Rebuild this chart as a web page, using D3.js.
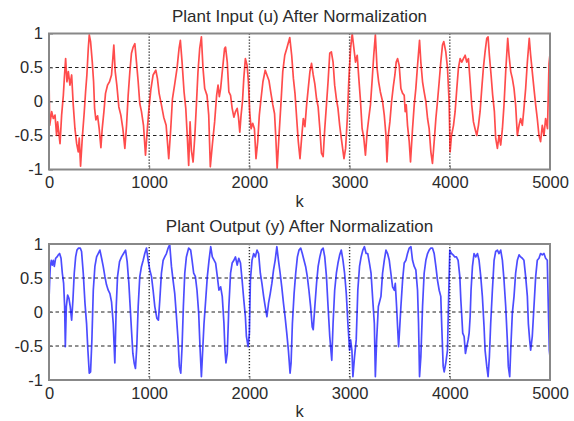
<!DOCTYPE html>
<html>
<head>
<meta charset="utf-8">
<script src="https://cdn.jsdelivr.net/npm/d3@7"></script>
<style>
    body { margin: 0; background: #fff; }
    svg text { font-family: Arial, "Liberation Sans", sans-serif; fill: #2b2b2b; }
</style>
</head>
<body>
<div id="chart"></div>
<script>
// ticks shared by both plots
const kTicks = [0, 1000, 2000, 3000, 4000, 5000];
const valueTicks = [-1, -0.5, 0, 0.5, 1];
const gridK = [1000, 2000, 3000, 4000];
const gridValues = [-0.5, 0, 0.5];

// plant input u(k)
const inputK = [0, 7, 27, 43, 60, 76, 86, 110, 126, 143, 153, 166, 179, 193, 209, 226, 242, 259, 276, 292,
    302, 315, 332, 352, 365, 378, 392, 402, 415, 432, 445, 455, 468, 485, 501, 518, 531, 548, 564, 584,
    604, 624, 637, 647, 661, 677, 697, 717, 737, 757, 774, 790, 807, 823, 840, 857, 873, 890, 906, 923,
    943, 963, 979, 996, 1016, 1039, 1066, 1082, 1099, 1122, 1145, 1169, 1195, 1215, 1232, 1255, 1278, 1298, 1311, 1328,
    1348, 1365, 1381, 1394, 1408, 1421, 1438, 1454, 1471, 1487, 1504, 1521, 1537, 1554, 1577, 1594, 1610, 1630, 1653, 1673,
    1687, 1700, 1713, 1726, 1739, 1752, 1762, 1779, 1795, 1812, 1828, 1845, 1861, 1878, 1891, 1904, 1917, 1931, 1944, 1960,
    1977, 1990, 2003, 2017, 2033, 2050, 2066, 2083, 2099, 2116, 2135, 2158, 2175, 2195, 2215, 2234, 2251, 2264, 2277, 2294,
    2314, 2333, 2353, 2373, 2403, 2422, 2439, 2455, 2472, 2488, 2505, 2521, 2538, 2554, 2571, 2587, 2604, 2620, 2637, 2653,
    2670, 2686, 2703, 2719, 2736, 2752, 2769, 2785, 2802, 2818, 2835, 2851, 2868, 2884, 2901, 2917, 2944, 2960, 2977, 2993,
    3010, 3026, 3043, 3059, 3076, 3092, 3109, 3125, 3142, 3158, 3175, 3191, 3208, 3224, 3241, 3257, 3274, 3290, 3307, 3329,
    3346, 3363, 3373, 3386, 3402, 3419, 3436, 3452, 3465, 3479, 3495, 3512, 3529, 3545, 3555, 3565, 3578, 3595, 3608, 3628,
    3645, 3661, 3678, 3698, 3711, 3728, 3744, 3761, 3778, 3794, 3811, 3827, 3844, 3861, 3877, 3894, 3910, 3927, 3940, 3960,
    3977, 3993, 4003, 4017, 4037, 4053, 4070, 4086, 4103, 4120, 4136, 4153, 4169, 4186, 4203, 4219, 4236, 4252, 4269, 4286,
    4302, 4319, 4335, 4352, 4369, 4382, 4395, 4412, 4428, 4445, 4458, 4475, 4491, 4508, 4525, 4541, 4558, 4578, 4591, 4608,
    4624, 4641, 4657, 4674, 4691, 4707, 4724, 4740, 4757, 4774, 4793, 4807, 4823, 4840, 4857, 4873, 4890, 4906, 4923, 4940,
    4956, 4975, 4990, 5000];
const inputU = [0.34, -0.35, -0.15, -0.25, -0.2, -0.5, -0.3, -0.62, -0.2, 0.09, 0.34, 0.63, 0.29, 0.44, 0.24, 0.39, -0.05, -0.4, -0.62, -0.74,
    -0.54, -0.95, -0.54, -0.15, 0.14, 0.39, 0.78, 0.98, 0.88, 0.58, 0.29, -0.1, -0.27, -0.21, -0.4, -0.68, -0.4, -0.15, 0.12, 0.24,
    0.29, 0.39, 0.63, 0.83, 0.44, 0.24, -0.08, -0.2, -0.4, -0.69, -0.35, 0.09, 0.44, 0.71, 0.8, 0.85, 0.58, 0.29, -0.03, -0.15,
    -0.35, -0.79, -0.45, -0.13, 0.17, 0.39, 0.46, 0.34, 0.12, -0.05, -0.23, -0.35, -0.84, -0.4, 0.04, 0.26, 0.49, 0.78, 0.9, 0.58,
    0.14, -0.1, -0.54, -0.94, -0.3, -0.72, -0.89, -0.54, -0.05, 0.44, 0.78, 0.95, 0.49, 0.19, 0.09, -0.2, -0.96, -0.64, -0.3, 0.09,
    0.24, 0.07, 0.19, 0.39, 0.58, 0.78, 0.8, 0.58, 0.14, 0.09, -0.1, -0.23, -0.15, -0.1, -0.23, -0.45, -0.2, 0, 0.34, 0.63,
    0.53, 0.29, -0.15, -0.4, -0.32, -0.4, -0.84, -0.59, -0.2, 0.04, 0.29, 0.46, 0.39, 0.31, 0.12, -0.05, -0.18, -0.54, -0.99, -0.54,
    -0.05, 0.44, 0.68, 0.78, 0.94, 0.68, 0.34, 0.12, -0.25, -0.59, -0.84, -0.54, -0.25, -0.37, -0.05, 0.19, 0.44, 0.56, 0.39, 0.26,
    0.04, -0.08, -0.4, -0.76, -0.81, -0.4, -0.05, 0.29, 0.71, 0.73, 0.58, 0.24, 0.04, -0.1, -0.35, -0.54, -0.84, -0.69, -0.25, 0.34,
    0.78, 1.0, 0.78, 0.58, 0.68, 0.34, 0, -0.4, -0.54, -0.79, -0.45, -0.25, -0.05, 0.29, 0.68, 0.98, 0.49, 0.29, 0.14, 0,
    -0.2, -0.5, -0.89, -0.5, -0.3, 0, 0.22, 0.39, 0.58, 0.63, 0.53, 0.19, 0.12, 0.09, -0.15, -0.05, -0.35, -0.59, -0.89, -0.4,
    -0.05, 0.19, 0.53, 0.9, 0.58, 0.29, 0.14, 0, -0.25, -0.4, -0.74, -0.91, -0.59, -0.25, 0, 0.29, 0.58, 0.83, 0.88, 0.73,
    0.49, 0, -0.74, -0.5, -0.35, -0.15, 0.19, 0.49, 0.63, 0.58, 0.63, 0.68, 0.58, 0.63, 0.29, -0.05, -0.3, -0.4, -0.5, -0.35,
    -0.15, 0.19, 0.49, 0.73, 0.93, 0.95, 0.68, 0.39, 0.09, -0.15, -0.54, -0.69, -0.5, -0.64, -0.4, -0.05, 0.44, 0.93, 0.68, 0.44,
    0.34, 0.19, -0.05, -0.5, -0.35, -0.25, -0.35, -0.1, 0.19, 0.58, 0.93, 0.68, 0.44, 0.19, -0.05, -0.25, -0.5, -0.59, -0.35, -0.5,
    -0.25, -0.4, 0.55, 0.7];

// plant output y(k)
const outputK = [0, 7, 13, 23, 33, 43, 53, 66, 80, 93, 106, 120, 133, 146, 156, 163, 173, 186, 199, 212,
    226, 239, 252, 266, 279, 295, 312, 325, 342, 359, 375, 388, 402, 415, 428, 442, 458, 475, 491, 508,
    525, 541, 558, 574, 591, 608, 624, 641, 657, 671, 684, 704, 724, 744, 764, 780, 797, 810, 823, 837,
    850, 863, 876, 890, 906, 923, 940, 956, 973, 989, 1006, 1023, 1039, 1056, 1076, 1092, 1106, 1122, 1139, 1155,
    1172, 1189, 1205, 1222, 1238, 1255, 1272, 1288, 1301, 1315, 1328, 1341, 1355, 1371, 1394, 1414, 1428, 1444, 1461, 1477,
    1494, 1507, 1521, 1534, 1547, 1564, 1580, 1597, 1614, 1630, 1663, 1680, 1696, 1713, 1729, 1746, 1756, 1766, 1779, 1795,
    1812, 1828, 1845, 1861, 1878, 1894, 1911, 1927, 1944, 1960, 1970, 1987, 2000, 2010, 2026, 2043, 2059, 2076, 2092, 2109,
    2125, 2142, 2158, 2175, 2191, 2208, 2224, 2241, 2257, 2274, 2290, 2307, 2323, 2340, 2356, 2373, 2389, 2406, 2416, 2429,
    2446, 2462, 2479, 2495, 2512, 2528, 2545, 2561, 2578, 2594, 2611, 2627, 2637, 2653, 2670, 2686, 2703, 2719, 2736, 2752,
    2769, 2785, 2802, 2822, 2835, 2851, 2868, 2884, 2901, 2917, 2934, 2950, 2967, 2983, 3000, 3010, 3023, 3033, 3049, 3066,
    3082, 3099, 3115, 3132, 3148, 3165, 3181, 3198, 3214, 3231, 3247, 3257, 3270, 3287, 3313, 3329, 3346, 3363, 3379, 3396,
    3412, 3429, 3446, 3456, 3469, 3479, 3489, 3499, 3512, 3529, 3545, 3562, 3578, 3595, 3612, 3628, 3645, 3661, 3678, 3688,
    3698, 3711, 3728, 3744, 3761, 3778, 3794, 3811, 3827, 3844, 3861, 3877, 3894, 3910, 3920, 3934, 3944, 3960, 3977, 3990,
    4000, 4017, 4033, 4050, 4066, 4083, 4100, 4110, 4120, 4129, 4143, 4156, 4169, 4183, 4193, 4203, 4212, 4226, 4242, 4259,
    4276, 4292, 4309, 4325, 4342, 4352, 4369, 4382, 4395, 4408, 4425, 4442, 4458, 4475, 4491, 4508, 4525, 4541, 4558, 4574,
    4584, 4598, 4608, 4624, 4641, 4657, 4674, 4691, 4707, 4724, 4740, 4757, 4774, 4784, 4797, 4807, 4823, 4840, 4857, 4873,
    4890, 4906, 4923, 4940, 4956, 4973, 4983, 4993, 5000];
const outputY = [0.18, 0.47, 0.67, 0.76, 0.69, 0.76, 0.67, 0.79, 0.81, 0.84, 0.86, 0.79, 0.57, 0.42, 0.08, -0.51, 0.08, 0.25, 0.2, 0.08,
    -0.12, 0.18, 0.57, 0.81, 0.91, 0.94, 0.94, 0.89, 0.57, 0.13, -0.17, -0.56, -0.9, -0.88, -0.41, 0.32, 0.67, 0.81, 0.86, 0.91,
    0.79, 0.67, 0.52, 0.4, 0.32, 0.27, 0.15, -0.17, -0.75, 0.08, 0.52, 0.74, 0.81, 0.86, 0.91, 0.74, 0.42, 0.08, -0.26, -0.61,
    -0.75, -0.83, -0.51, 0.08, 0.52, 0.67, 0.76, 0.86, 0.94, 0.76, 0.62, 0.52, 0.32, 0.08, -0.09, -0.12, 0.18, 0.57, 0.76, 0.81,
    0.86, 0.94, 0.99, 0.67, 0.47, 0.27, -0.07, -0.41, -0.8, -0.9, -0.51, 0.08, 0.57, 0.81, 0.94, 0.91, 0.76, 0.57, 0.52, 0.32,
    -0.02, -0.51, -0.95, -0.56, -0.17, 0.18, 0.52, 0.76, 0.96, 0.81, 0.72, 0.52, 0.32, 0.37, 0.23, -0.17, -0.56, -0.75, -0.61, 0.08,
    0.57, 0.72, 0.76, 0.81, 0.69, 0.79, 0.72, 0.47, 0.18, -0.07, -0.36, -0.51, -0.31, 0.47, 0.76, 0.86, 0.81, 0.91, 0.86, 0.57,
    0.42, 0.23, 0.08, -0.07, 0.13, 0.27, 0.42, 0.62, 0.76, 0.96, 0.76, 0.57, 0.37, 0.13, -0.07, -0.31, -0.56, -0.9, -0.75, -0.17,
    0.27, 0.57, 0.81, 0.91, 0.94, 0.86, 0.76, 0.67, 0.52, 0.32, 0.08, -0.22, -0.26, 0.08, 0.42, 0.67, 0.81, 0.91, 0.94, 0.81,
    0.52, 0.08, -0.36, -0.71, -0.17, 0.32, 0.57, 0.72, 0.84, 0.91, 0.76, 0.57, 0.27, -0.17, -0.56, -0.41, -0.56, -0.95, -0.66, -0.41,
    0.32, 0.67, 0.81, 0.91, 0.96, 0.86, 0.86, 0.72, 0.57, 0.18, -0.17, -0.95, -0.41, 0.08, 0.23, 0.57, 0.76, 0.91, 0.86, 0.76,
    0.57, 0.37, 0.32, 0.42, 0.08, -0.22, -0.51, -0.26, 0.08, 0.47, 0.72, 0.76, 0.86, 0.94, 0.96, 0.76, 0.67, 0.62, 0.32, -0.17,
    -0.95, -0.66, 0.08, 0.57, 0.76, 0.86, 0.91, 0.94, 0.94, 0.86, 0.67, 0.47, 0.32, 0.23, -0.22, -0.8, -0.88, -0.75, -0.56, 0.32,
    0.91, 0.86, 0.84, 0.81, 0.81, 0.76, 0.52, 0.18, -0.07, -0.31, -0.36, -0.61, -0.51, -0.41, -0.31, -0.07, 0.32, 0.67, 0.86, 0.81,
    0.86, 0.76, 0.52, 0.23, -0.22, -0.56, -0.8, -0.95, -0.66, -0.17, 0.32, 0.76, 0.89, 0.91, 0.86, 0.91, 0.76, 0.47, 0.08, -0.41,
    -0.8, -0.95, -0.56, -0.02, 0.23, 0.57, 0.76, 0.84, 0.81, 0.79, 0.76, 0.52, 0.23, -0.17, -0.41, -0.56, -0.36, 0.08, 0.52, 0.76,
    0.79, 0.86, 0.84, 0.86, 0.79, 0.76, 0.08, -0.56, -0.66];

class NormPlot {

    constructor(parent, top, title, kValues, values, color) {
        this.parent = parent;
        this.top = top;
        this.title = title;
        this.kValues = kValues;
        this.values = values;
        this.color = color;

        this.initVis();
    }

    initVis() {
        let vis = this;

        vis.margin = {left: 49, top: vis.top};
        vis.width = 501;
        vis.height = 136;

        vis.fence = vis.parent.append("g")
            .attr("transform", "translate(" + vis.margin.left + "," + vis.margin.top + ")");

        vis.x = d3.scaleLinear().domain([0, 5000]).range([0, vis.width]);
        vis.y = d3.scaleLinear().domain([-1, 1]).range([vis.height, 0]);

        vis.updateVis();
    }

    updateVis() {
        let vis = this;

        // grid: dashed across, dotted up
        vis.fence.selectAll(".hgrid")
            .data(gridValues)
            .join("line")
            .attr("class", "hgrid")
            .attr("x1", 0).attr("x2", vis.width)
            .attr("y1", d => vis.y(d)).attr("y2", d => vis.y(d))
            .style("stroke", "#222")
            .style("stroke-width", 1.1)
            .style("stroke-dasharray", "3.5,3");

        vis.fence.selectAll(".vgrid")
            .data(gridK)
            .join("line")
            .attr("class", "vgrid")
            .attr("x1", d => vis.x(d)).attr("x2", d => vis.x(d))
            .attr("y1", 0).attr("y2", vis.height)
            .style("stroke", "#333")
            .style("stroke-width", 1.4)
            .style("stroke-dasharray", "1.3,1.7");

        // the signal
        let points = vis.kValues.map((k, i) => [k, vis.values[i]]);
        vis.fence.append("path")
            .datum(points)
            .attr("d", d3.line().x(d => vis.x(d[0])).y(d => vis.y(d[1])))
            .style("fill", "none")
            .style("stroke", vis.color)
            .style("stroke-width", 1.7)
            .style("stroke-linejoin", "round")
            .style("opacity", 0.7);

        // axes, ticks pointing in
        let xAxis = d3.axisBottom(vis.x)
            .tickValues(kTicks)
            .tickSizeInner(-4)
            .tickSizeOuter(0)
            .tickPadding(7)
            .tickFormat(d => String(d));
        let yAxis = d3.axisLeft(vis.y)
            .tickValues(valueTicks)
            .tickSizeInner(-4)
            .tickSizeOuter(0)
            .tickPadding(6)
            .tickFormat(d => String(d));

        vis.fence.append("g")
            .attr("transform", "translate(0," + vis.height + ")")
            .call(xAxis);
        vis.fence.append("g")
            .call(yAxis);

        vis.fence.selectAll(".domain").remove();
        vis.fence.selectAll(".tick line").style("stroke", "#777");
        vis.fence.selectAll(".tick text")
            .style("font-size", "16.5px")
            .style("fill", "#2b2b2b");

        // box around the axes
        vis.fence.append("rect")
            .attr("width", vis.width)
            .attr("height", vis.height)
            .style("fill", "none")
            .style("stroke", "#888")
            .style("stroke-width", 2);

        // title and x label
        vis.fence.append("text")
            .attr("x", vis.width / 2)
            .attr("y", -12)
            .style("text-anchor", "middle")
            .style("font-size", "17px")
            .text(vis.title);

        vis.fence.append("text")
            .attr("x", vis.width / 2)
            .attr("y", vis.height + 37)
            .style("text-anchor", "middle")
            .style("font-size", "16.5px")
            .text("k");
    }
}

let svg = d3.select("#chart")
    .append("svg")
    .attr("width", 574)
    .attr("height", 421);

new NormPlot(svg, 33.5, "Plant Input (u) After Normalization", inputK, inputU, "#ff0000");
new NormPlot(svg, 244, "Plant Output (y) After Normalization", outputK, outputY, "#0000ff");
</script>
</body>
</html>
